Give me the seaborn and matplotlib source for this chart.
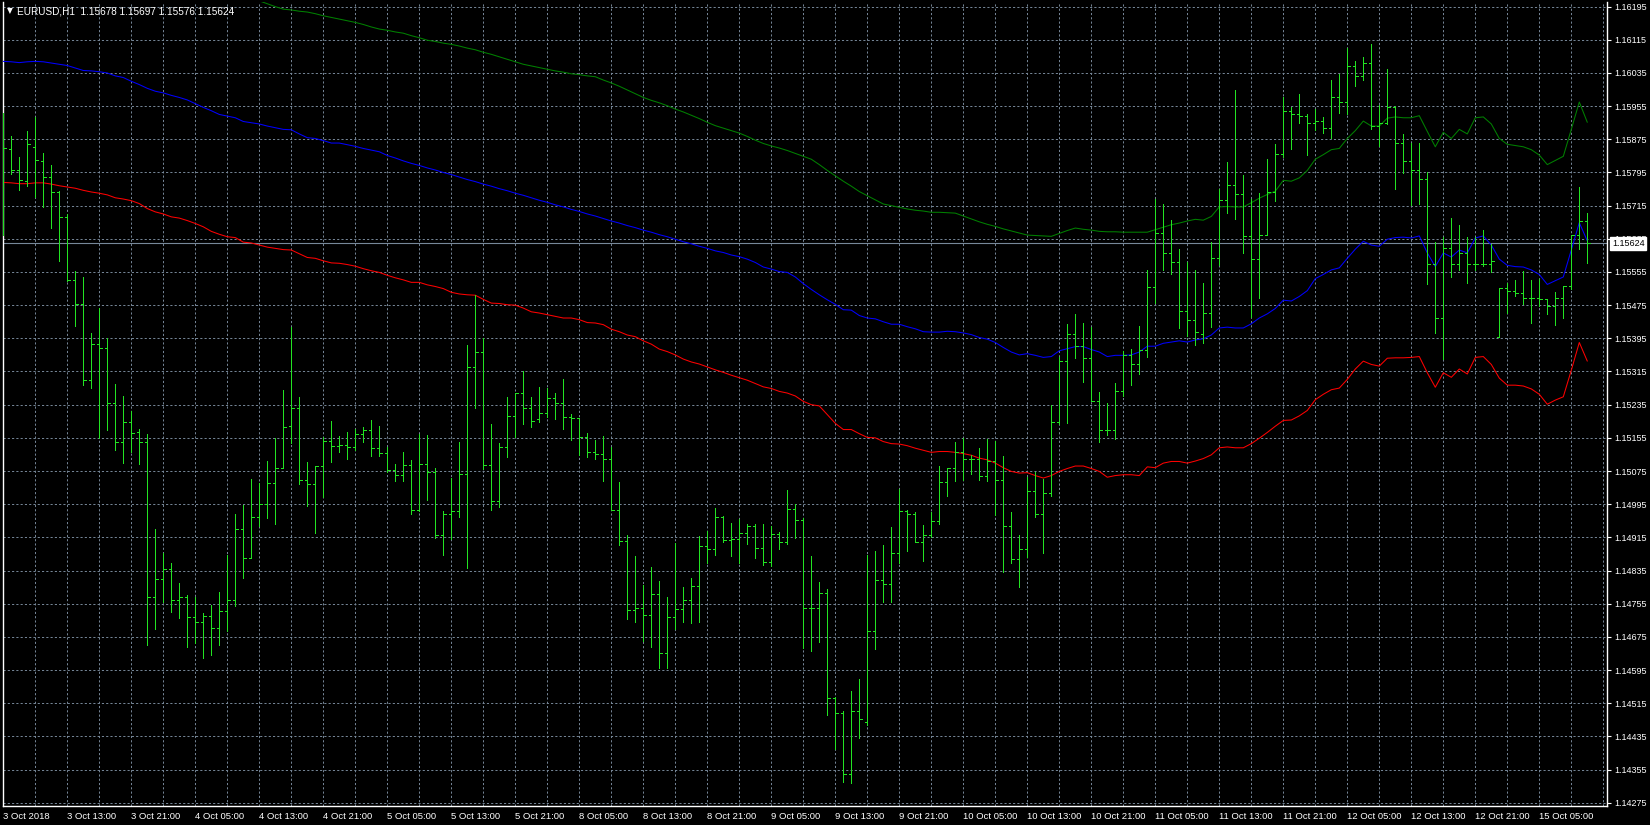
import numpy as np
import matplotlib
matplotlib.use("Agg")
import matplotlib.pyplot as plt
import matplotlib.transforms as mtransforms
import seaborn as sns

# ---------------- data (EURUSD H1, 199 bars) ----------------
opens = [1.15800,1.15851,1.15802,1.15774,1.15856,1.15823,1.15784,1.15748,1.15687,1.15536,
1.15478,1.15295,1.15382,1.15372,1.15239,1.15146,1.15192,1.15168,1.15146,1.14771,
1.14815,1.14839,1.14765,1.14770,1.14724,1.14710,1.14726,1.14697,1.14737,1.14765,
1.14936,1.14865,1.14965,1.14996,1.15045,1.15082,1.15183,1.15228,1.15054,1.15043,
1.15088,1.15148,1.15135,1.15138,1.15133,1.15165,1.15175,1.15131,1.15118,1.15077,
1.15065,1.15090,1.14981,1.15091,1.15073,1.14920,1.14972,1.14979,1.15067,1.15325,
1.15362,1.15089,1.15003,1.15132,1.15207,1.15263,1.15227,1.15200,1.15215,1.15251,
1.15238,1.15206,1.15202,1.15156,1.15122,1.15116,1.15104,1.14981,1.14905,1.14739,
1.14744,1.14727,1.14778,1.14636,1.14724,1.14742,1.14763,1.14797,1.14895,1.14888,
1.14963,1.14908,1.14910,1.14925,1.14943,1.14890,1.14856,1.14924,1.14904,1.14983,
1.14958,1.14745,1.14744,1.14781,1.14527,1.14491,1.14344,1.14496,1.14470,1.14688,
1.14813,1.14802,1.14878,1.14978,1.14972,1.14903,1.14920,1.14955,1.15049,1.15083,
1.15121,1.15104,1.15104,1.15064,1.15098,1.15053,1.14943,1.14863,1.14886,1.15026,
1.14971,1.15022,1.15193,1.15341,1.15406,1.15376,1.15348,1.15245,1.15175,1.15175,
1.15267,1.15354,1.15333,1.15366,1.15520,1.15650,1.15600,1.15580,1.15460,1.15440,
1.15405,1.15456,1.15588,1.15729,1.15765,1.15743,1.15642,1.15587,1.15644,1.15748,
1.15840,1.15944,1.15936,1.15932,1.15915,1.15919,1.15903,1.15977,1.15964,1.16052,
1.16028,1.16058,1.15907,1.15914,1.15952,1.15866,1.15823,1.15801,1.15780,1.15575,
1.15444,1.15612,1.15575,1.15600,1.15575,1.15575,1.15575,1.15397,1.15517,1.15508,
1.15504,1.15493,1.15493,1.15489,1.15472,1.15493,1.15522,1.15644,1.15678]
highs = [1.15938,1.15883,1.15833,1.15896,1.15930,1.15843,1.15814,1.15750,1.15696,1.15558,
1.15544,1.15407,1.15467,1.15396,1.15285,1.15257,1.15219,1.15177,1.15164,1.14935,
1.14877,1.14853,1.14804,1.14775,1.14772,1.14733,1.14752,1.14783,1.14872,1.14971,
1.14994,1.15056,1.15046,1.15099,1.15155,1.15271,1.15422,1.15254,1.15097,1.15088,
1.15157,1.15196,1.15159,1.15170,1.15177,1.15181,1.15198,1.15183,1.15133,1.15093,
1.15121,1.15101,1.15165,1.15162,1.15082,1.14979,1.15059,1.15145,1.15379,1.15499,
1.15395,1.15189,1.15142,1.15254,1.15264,1.15317,1.15254,1.15278,1.15274,1.15262,
1.15297,1.15213,1.15204,1.15166,1.15149,1.15160,1.15132,1.15049,1.14921,1.14870,
1.14799,1.14844,1.14810,1.14770,1.14901,1.14796,1.14817,1.14919,1.14931,1.14986,
1.14966,1.14950,1.14959,1.14947,1.14947,1.14947,1.14943,1.14927,1.15029,1.14995,
1.14962,1.14870,1.14807,1.14791,1.14530,1.14495,1.14544,1.14573,1.14873,1.14882,
1.14896,1.14940,1.15032,1.14980,1.14975,1.14945,1.14976,1.15088,1.15083,1.15146,
1.15155,1.15114,1.15131,1.15151,1.15148,1.15112,1.14976,1.14920,1.15060,1.15073,
1.15056,1.15235,1.15351,1.15429,1.15454,1.15431,1.15422,1.15266,1.15239,1.15288,
1.15365,1.15370,1.15425,1.15560,1.15730,1.15720,1.15680,1.15610,1.15580,1.15560,
1.15528,1.15627,1.15756,1.15821,1.15995,1.15789,1.15732,1.15745,1.15828,1.15864,
1.15978,1.15952,1.15985,1.15935,1.15949,1.15928,1.16017,1.16033,1.16095,1.16063,
1.16073,1.16106,1.15957,1.16044,1.15955,1.15888,1.15867,1.15866,1.15795,1.15627,
1.15640,1.15686,1.15668,1.15640,1.15640,1.15657,1.15623,1.15517,1.15528,1.15535,
1.15558,1.15536,1.15539,1.15491,1.15506,1.15522,1.15644,1.15759,1.15697]
lows = [1.15645,1.15791,1.15752,1.15762,1.15736,1.15711,1.15661,1.15581,1.15534,1.15424,
1.15282,1.15275,1.15155,1.15174,1.15125,1.15095,1.15121,1.15092,1.14655,1.14694,
1.14760,1.14735,1.14720,1.14650,1.14660,1.14625,1.14630,1.14655,1.14690,1.14749,
1.14817,1.14865,1.14942,1.14961,1.14946,1.15082,1.15142,1.15043,1.14990,1.14925,
1.15013,1.15097,1.15121,1.15103,1.15125,1.15144,1.15112,1.15112,1.15073,1.15050,
1.15050,1.14971,1.14979,1.15006,1.14913,1.14872,1.14911,1.14965,1.14840,1.15228,
1.15079,1.14981,1.14989,1.15108,1.15157,1.15188,1.15180,1.15194,1.15206,1.15200,
1.15177,1.15149,1.15114,1.15108,1.15104,1.15051,1.14981,1.14896,1.14717,1.14710,
1.14665,1.14651,1.14599,1.14599,1.14694,1.14712,1.14708,1.14710,1.14853,1.14872,
1.14903,1.14870,1.14853,1.14900,1.14866,1.14849,1.14846,1.14886,1.14899,1.14913,
1.14649,1.14640,1.14663,1.14487,1.14404,1.14324,1.14322,1.14430,1.14462,1.14645,
1.14760,1.14760,1.14854,1.14883,1.14903,1.14859,1.14917,1.14948,1.15015,1.15052,
1.15054,1.15067,1.15053,1.15052,1.14968,1.14831,1.14854,1.14796,1.14867,1.14965,
1.14878,1.15015,1.15188,1.15190,1.15348,1.15289,1.15245,1.15144,1.15161,1.15152,
1.15257,1.15282,1.15309,1.15350,1.15480,1.15560,1.15550,1.15420,1.15400,1.15380,
1.15383,1.15422,1.15571,1.15698,1.15683,1.15601,1.15446,1.15493,1.15644,1.15726,
1.15832,1.15851,1.15914,1.15837,1.15897,1.15891,1.15877,1.15939,1.15936,1.16003,
1.16019,1.15899,1.15860,1.15912,1.15755,1.15794,1.15716,1.15718,1.15525,1.15409,
1.15345,1.15542,1.15560,1.15528,1.15560,1.15569,1.15555,1.15397,1.15456,1.15498,
1.15479,1.15433,1.15474,1.15453,1.15428,1.15444,1.15513,1.15610,1.15576]
closes = [1.15853,1.15802,1.15777,1.15864,1.15826,1.15783,1.15748,1.15688,1.15536,1.15478,
1.15295,1.15382,1.15372,1.15239,1.15146,1.15192,1.15166,1.15146,1.14771,1.14815,
1.14839,1.14765,1.14770,1.14724,1.14710,1.14726,1.14697,1.14737,1.14765,1.14936,
1.14865,1.14965,1.14996,1.15045,1.15082,1.15181,1.15228,1.15054,1.15043,1.15088,
1.15148,1.15135,1.15138,1.15133,1.15165,1.15175,1.15131,1.15118,1.15077,1.15065,
1.15090,1.14981,1.15091,1.15073,1.14920,1.14972,1.14979,1.15067,1.15325,1.15362,
1.15089,1.15003,1.15132,1.15207,1.15263,1.15227,1.15195,1.15215,1.15251,1.15238,
1.15206,1.15202,1.15156,1.15122,1.15116,1.15104,1.14981,1.14905,1.14739,1.14744,
1.14727,1.14778,1.14636,1.14724,1.14742,1.14763,1.14797,1.14895,1.14888,1.14963,
1.14908,1.14910,1.14925,1.14943,1.14890,1.14856,1.14924,1.14904,1.14983,1.14958,
1.14745,1.14744,1.14781,1.14527,1.14491,1.14344,1.14496,1.14477,1.14688,1.14813,
1.14802,1.14878,1.14978,1.14972,1.14903,1.14920,1.14955,1.15049,1.15083,1.15121,
1.15104,1.15104,1.15064,1.15098,1.15053,1.14943,1.14863,1.14886,1.15026,1.14971,
1.15022,1.15193,1.15341,1.15406,1.15376,1.15348,1.15245,1.15175,1.15175,1.15267,
1.15354,1.15333,1.15366,1.15520,1.15650,1.15600,1.15580,1.15460,1.15440,1.15410,
1.15456,1.15588,1.15729,1.15765,1.15743,1.15642,1.15587,1.15644,1.15748,1.15840,
1.15944,1.15936,1.15932,1.15915,1.15919,1.15903,1.15977,1.15964,1.16052,1.16028,
1.16058,1.15907,1.15914,1.15952,1.15866,1.15823,1.15801,1.15780,1.15575,1.15444,
1.15612,1.15575,1.15600,1.15575,1.15575,1.15575,1.15582,1.15517,1.15508,1.15504,
1.15493,1.15493,1.15489,1.15472,1.15493,1.15522,1.15644,1.15678,1.15624]

upper_band = [np.nan]*31 + [1.16215,1.16209,1.16202,1.16195,1.16189,1.16187,1.16184,1.16182,1.16178,1.16173,
1.16169,1.16165,1.16161,1.16157,1.16152,1.16146,1.16141,1.16138,1.16134,1.16131,
1.16125,1.16120,1.16114,1.16111,1.16107,1.16104,1.16100,1.16095,1.16091,1.16085,
1.16080,1.16074,1.16068,1.16062,1.16056,1.16052,1.16048,1.16044,1.16040,1.16037,
1.16033,1.16031,1.16028,1.16026,1.16018,1.16011,1.16003,1.15994,1.15985,1.15976,
1.15969,1.15963,1.15956,1.15948,1.15941,1.15933,1.15925,1.15916,1.15908,1.15902,
1.15896,1.15890,1.15882,1.15873,1.15865,1.15859,1.15854,1.15848,1.15841,1.15834,
1.15827,1.15814,1.15800,1.15787,1.15774,1.15762,1.15749,1.15739,1.15729,1.15719,
1.15715,1.15711,1.15707,1.15704,1.15702,1.15699,1.15699,1.15698,1.15697,1.15690,
1.15683,1.15676,1.15670,1.15665,1.15659,1.15654,1.15649,1.15644,1.15643,1.15642,
1.15641,1.15648,1.15655,1.15661,1.15658,1.15656,1.15653,1.15652,1.15652,1.15651,
1.15651,1.15651,1.15651,1.15657,1.15663,1.15669,1.15673,1.15678,1.15682,
1.15680,1.15689,1.15712,1.15713,1.15712,1.15712,1.15722,1.15733,1.15742,1.15750,
1.15776,1.15774,1.15782,1.15800,1.15827,1.15838,1.15850,1.15853,1.15877,1.15896,
1.15919,1.15907,1.15907,1.15926,1.15929,1.15927,1.15927,1.15932,1.15894,1.15857,
1.15892,1.15877,1.15899,1.15888,1.15927,1.15929,1.15912,1.15877,1.15863,1.15860,
1.15857,1.15850,1.15837,1.15814,1.15824,1.15834,1.15899,1.15965,1.15916]
middle_band = [1.16063,1.16062,1.16060,1.16062,1.16063,1.16062,1.16059,1.16056,1.16053,1.16047,
1.16041,1.16040,1.16038,1.16035,1.16028,1.16024,1.16015,1.16007,1.15998,1.15991,
1.15987,1.15981,1.15976,1.15970,1.15961,1.15952,1.15944,1.15935,1.15931,1.15927,
1.15918,1.15915,1.15912,1.15907,1.15903,1.15899,1.15898,1.15888,1.15879,1.15877,
1.15872,1.15866,1.15866,1.15862,1.15858,1.15853,1.15849,1.15845,1.15836,1.15830,
1.15823,1.15817,1.15812,1.15806,1.15801,1.15795,1.15790,1.15784,1.15778,1.15773,
1.15767,1.15762,1.15756,1.15751,1.15745,1.15740,1.15734,1.15728,1.15723,1.15717,
1.15712,1.15706,1.15701,1.15695,1.15690,1.15684,1.15678,1.15673,1.15667,1.15662,
1.15656,1.15651,1.15645,1.15640,1.15634,1.15628,1.15623,1.15617,1.15612,1.15606,
1.15602,1.15596,1.15592,1.15586,1.15578,1.15567,1.15562,1.15556,1.15554,1.15543,
1.15527,1.15513,1.15500,1.15488,1.15477,1.15464,1.15463,1.15450,1.15444,1.15442,
1.15435,1.15429,1.15429,1.15423,1.15418,1.15411,1.15410,1.15410,1.15412,1.15411,
1.15408,1.15404,1.15397,1.15393,1.15385,1.15373,1.15362,1.15355,1.15358,1.15354,
1.15349,1.15351,1.15365,1.15370,1.15375,1.15375,1.15368,1.15362,1.15351,1.15354,
1.15354,1.15355,1.15362,1.15376,1.15376,1.15383,1.15386,1.15389,1.15386,1.15391,
1.15394,1.15403,1.15420,1.15422,1.15420,1.15420,1.15430,1.15444,1.15454,1.15467,
1.15487,1.15485,1.15496,1.15510,1.15539,1.15549,1.15560,1.15565,1.15588,1.15610,
1.15629,1.15620,1.15617,1.15634,1.15638,1.15639,1.15637,1.15642,1.15601,1.15568,
1.15601,1.15591,1.15608,1.15601,1.15637,1.15642,1.15620,1.15586,1.15571,1.15568,
1.15567,1.15560,1.15549,1.15525,1.15534,1.15543,1.15608,1.15674,1.15630]
lower_band = [1.15771,1.15770,1.15768,1.15768,1.15770,1.15770,1.15767,1.15763,1.15760,1.15757,
1.15752,1.15748,1.15745,1.15741,1.15734,1.15731,1.15727,1.15720,1.15708,1.15700,
1.15695,1.15688,1.15685,1.15679,1.15672,1.15664,1.15653,1.15646,1.15640,1.15638,
1.15627,1.15625,1.15620,1.15615,1.15612,1.15609,1.15608,1.15599,1.15590,1.15588,
1.15582,1.15577,1.15576,1.15573,1.15569,1.15563,1.15558,1.15554,1.15547,1.15541,
1.15536,1.15530,1.15530,1.15524,1.15520,1.15515,1.15506,1.15502,1.15500,1.15499,
1.15489,1.15480,1.15479,1.15476,1.15475,1.15468,1.15459,1.15456,1.15452,1.15448,
1.15444,1.15444,1.15440,1.15433,1.15432,1.15428,1.15417,1.15411,1.15403,1.15399,
1.15389,1.15381,1.15369,1.15363,1.15355,1.15345,1.15338,1.15333,1.15326,1.15319,
1.15313,1.15306,1.15300,1.15294,1.15286,1.15278,1.15274,1.15267,1.15263,1.15256,
1.15243,1.15235,1.15232,1.15211,1.15190,1.15175,1.15175,1.15165,1.15156,1.15155,
1.15146,1.15141,1.15140,1.15136,1.15130,1.15125,1.15120,1.15122,1.15122,1.15120,
1.15117,1.15113,1.15106,1.15102,1.15094,1.15083,1.15074,1.15070,1.15071,1.15064,
1.15058,1.15064,1.15074,1.15081,1.15087,1.15087,1.15081,1.15074,1.15060,1.15064,
1.15066,1.15066,1.15064,1.15085,1.15083,1.15094,1.15098,1.15098,1.15094,1.15099,
1.15105,1.15114,1.15131,1.15133,1.15131,1.15131,1.15141,1.15154,1.15168,1.15183,
1.15197,1.15198,1.15208,1.15221,1.15247,1.15260,1.15271,1.15275,1.15296,1.15321,
1.15340,1.15332,1.15328,1.15347,1.15348,1.15348,1.15349,1.15351,1.15312,1.15277,
1.15312,1.15301,1.15321,1.15309,1.15349,1.15351,1.15332,1.15299,1.15282,1.15282,
1.15280,1.15273,1.15260,1.15236,1.15246,1.15254,1.15318,1.15385,1.15340]

time_labels = ["3 Oct 2018","3 Oct 13:00","3 Oct 21:00","4 Oct 05:00","4 Oct 13:00",
"4 Oct 21:00","5 Oct 05:00","5 Oct 13:00","5 Oct 21:00","8 Oct 05:00","8 Oct 13:00",
"8 Oct 21:00","9 Oct 05:00","9 Oct 13:00","9 Oct 21:00","10 Oct 05:00","10 Oct 13:00",
"10 Oct 21:00","11 Oct 05:00","11 Oct 13:00","11 Oct 21:00","12 Oct 05:00",
"12 Oct 13:00","12 Oct 21:00","15 Oct 05:00"]
price_ticks = [1.16195,1.16115,1.16035,1.15955,1.15875,1.15795,1.15715,1.15635,1.15555,
1.15475,1.15395,1.15315,1.15235,1.15155,1.15075,1.14995,1.14915,1.14835,1.14755,
1.14675,1.14595,1.14515,1.14435,1.14355,1.14275]
symbol_title = "EURUSD,H1  1.15678 1.15697 1.15576 1.15624"
last_price = 1.15624

# ---------------- figure ----------------
sns.set_style("dark")
plt.rcParams['font.family'] = ['Liberation Sans', 'DejaVu Sans']

W, H = 1650, 825
fig = plt.figure(figsize=(W/100, H/100), dpi=100, facecolor="black")
ax_l, ax_r, ax_t, ax_b = 2.5, 1607, 2.5, 806
ax = fig.add_axes([ax_l/W, 1-ax_b/H, (ax_r-ax_l)/W, (ax_b-ax_t)/H])
ax.set_facecolor("black")

n = len(closes)
x = np.arange(n)
px_per_bar = 8.0
x_first = 3.3
ax.set_xlim((ax_l - x_first)/px_per_bar, (ax_r - x_first)/px_per_bar)
ax.set_ylim(1.14267, 1.16205)

grid_c = "#778899"
for gx in range(4, 201, 4):
    ax.axvline(gx, color=grid_c, lw=0.7, ls=(0, (2.2, 2.2)), zorder=1)
for gy in price_ticks:
    ax.axhline(gy, color=grid_c, lw=0.7, ls=(0, (2.2, 2.2)), zorder=1)

# current price line
ax.axhline(last_price, color=grid_c, lw=0.8, zorder=2)

# Bollinger bands via seaborn
band_kw = dict(ax=ax, lw=0.75, legend=False, sort=False, zorder=3)
sns.lineplot(x=x, y=upper_band, color="#008000", **band_kw)
sns.lineplot(x=x, y=middle_band, color="#0000FF", **band_kw)
sns.lineplot(x=x, y=lower_band, color="#FF0000", **band_kw)

# OHLC bars
bar_c = "#22e322"
tick_w = 0.33
bar_lw = 0.6
ax.vlines(x, lows, highs, color=bar_c, lw=bar_lw, zorder=4, antialiased=False)
ax.hlines(opens, x - tick_w, x, color=bar_c, lw=bar_lw, zorder=4, antialiased=False)
ax.hlines(closes, x, x + tick_w, color=bar_c, lw=bar_lw, zorder=4, antialiased=False)

for s in ax.spines.values():
    s.set_color("white")
    s.set_linewidth(1.0)
ax.spines['top'].set_visible(False)

ax.grid(False)
ax.yaxis.tick_right()
ax.set_yticks(price_ticks)
ax.set_yticklabels([f"{p:.5f}" for p in price_ticks])
ax.tick_params(axis='y', colors='white', labelcolor='white', length=3, width=0.8,
               direction='out', pad=2, labelsize=6.5)
label_pos = list(range(0, 8*len(time_labels), 8))
ax.set_xticks(label_pos)
ax.set_xticklabels(time_labels)
ax.tick_params(axis='x', colors='white', labelcolor='white', length=3, width=0.8,
               direction='out', pad=1.5, labelsize=6.8)
for lbl in ax.get_xticklabels():
    lbl.set_horizontalalignment('left')

# current price box (covers the 1.15635 grid label as in the terminal)
trans = mtransforms.blended_transform_factory(ax.transAxes, ax.transData)
ax.text(1 + 5/(ax_r-ax_l), last_price, f"{last_price:.5f}", transform=trans,
        color="black", fontsize=6.5, va="center", ha="left", zorder=10,
        bbox=dict(boxstyle="square,pad=0.2", fc="white", ec="white"), clip_on=False)

# title
fig.text(7/W, 1-11/H, "\u25BC", color="white", fontsize=5.5, va="center", ha="left",
         family=["DejaVu Sans"])
fig.text(17/W, 1-11/H, symbol_title, color="white", fontsize=7.2, va="center", ha="left")

fig.savefig("out.png", dpi=100, facecolor="black")
